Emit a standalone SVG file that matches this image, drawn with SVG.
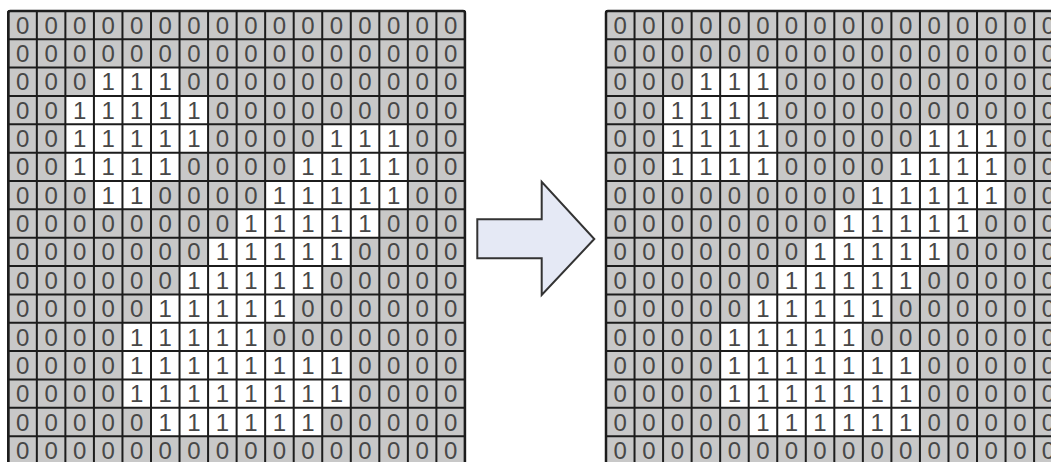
<svg xmlns="http://www.w3.org/2000/svg" xmlns:xlink="http://www.w3.org/1999/xlink" width="1051" height="462" viewBox="0 0 1051 462">
<style>
.bg{fill:#c8c8c8}
.on{fill:#ffffff}
.lines{fill:none;stroke:#1c1c1c;stroke-width:2}
.border{fill:none;stroke:#1c1c1c;stroke-width:2.5}
.d{font-family:"Liberation Sans",Arial,sans-serif;font-size:24px;fill:#474747;text-anchor:middle}
.arrow{fill:#e5e9f5;stroke:#333333;stroke-width:2;stroke-linejoin:miter}
</style>
<defs>
<rect id="gbg" class="bg" x="0" y="0" width="456.64" height="453.6"/>
<path id="glines" class="lines" d="M0 0V453.6M28.54 0V453.6M57.08 0V453.6M85.62 0V453.6M114.16 0V453.6M142.7 0V453.6M171.24 0V453.6M199.78 0V453.6M228.32 0V453.6M256.86 0V453.6M285.4 0V453.6M313.94 0V453.6M342.48 0V453.6M371.02 0V453.6M399.56 0V453.6M428.1 0V453.6M456.64 0V453.6M0 0H456.64M0 28.35H456.64M0 56.7H456.64M0 85.05H456.64M0 113.4H456.64M0 141.75H456.64M0 170.1H456.64M0 198.45H456.64M0 226.8H456.64M0 255.15H456.64M0 283.5H456.64M0 311.85H456.64M0 340.2H456.64M0 368.55H456.64M0 396.9H456.64M0 425.25H456.64M0 453.6H456.64"/>
</defs>

<g id="grid-before" transform="translate(8.3,10.9)">
<use xlink:href="#gbg"/>
<g class="on">
<rect x="85.62" y="56.7" width="85.62" height="28.35"/>
<rect x="57.08" y="85.05" width="142.7" height="28.35"/>
<rect x="57.08" y="113.4" width="142.7" height="28.35"/>
<rect x="313.94" y="113.4" width="85.62" height="28.35"/>
<rect x="57.08" y="141.75" width="114.16" height="28.35"/>
<rect x="285.4" y="141.75" width="114.16" height="28.35"/>
<rect x="85.62" y="170.1" width="57.08" height="28.35"/>
<rect x="256.86" y="170.1" width="142.7" height="28.35"/>
<rect x="228.32" y="198.45" width="142.7" height="28.35"/>
<rect x="199.78" y="226.8" width="142.7" height="28.35"/>
<rect x="171.24" y="255.15" width="142.7" height="28.35"/>
<rect x="142.7" y="283.5" width="142.7" height="28.35"/>
<rect x="114.16" y="311.85" width="142.7" height="28.35"/>
<rect x="114.16" y="340.2" width="228.32" height="56.7"/>
<rect x="142.7" y="396.9" width="171.24" height="28.35"/>
</g>
<use xlink:href="#glines"/>
<rect class="border" x="0" y="0" width="456.64" height="453.6" rx="2"/>
<g class="d">
<text y="22.8" x="14.27 42.81 71.35 99.89 128.43 156.97 185.51 214.05 242.59 271.13 299.67 328.21 356.75 385.29 413.83 442.37">0000000000000000</text>
<text y="51.15" x="14.27 42.81 71.35 99.89 128.43 156.97 185.51 214.05 242.59 271.13 299.67 328.21 356.75 385.29 413.83 442.37">0000000000000000</text>
<text y="79.5" x="14.27 42.81 71.35 99.89 128.43 156.97 185.51 214.05 242.59 271.13 299.67 328.21 356.75 385.29 413.83 442.37">0001110000000000</text>
<text y="107.85" x="14.27 42.81 71.35 99.89 128.43 156.97 185.51 214.05 242.59 271.13 299.67 328.21 356.75 385.29 413.83 442.37">0011111000000000</text>
<text y="136.2" x="14.27 42.81 71.35 99.89 128.43 156.97 185.51 214.05 242.59 271.13 299.67 328.21 356.75 385.29 413.83 442.37">0011111000011100</text>
<text y="164.55" x="14.27 42.81 71.35 99.89 128.43 156.97 185.51 214.05 242.59 271.13 299.67 328.21 356.75 385.29 413.83 442.37">0011110000111100</text>
<text y="192.9" x="14.27 42.81 71.35 99.89 128.43 156.97 185.51 214.05 242.59 271.13 299.67 328.21 356.75 385.29 413.83 442.37">0001100001111100</text>
<text y="221.25" x="14.27 42.81 71.35 99.89 128.43 156.97 185.51 214.05 242.59 271.13 299.67 328.21 356.75 385.29 413.83 442.37">0000000011111000</text>
<text y="249.6" x="14.27 42.81 71.35 99.89 128.43 156.97 185.51 214.05 242.59 271.13 299.67 328.21 356.75 385.29 413.83 442.37">0000000111110000</text>
<text y="277.95" x="14.27 42.81 71.35 99.89 128.43 156.97 185.51 214.05 242.59 271.13 299.67 328.21 356.75 385.29 413.83 442.37">0000001111100000</text>
<text y="306.3" x="14.27 42.81 71.35 99.89 128.43 156.97 185.51 214.05 242.59 271.13 299.67 328.21 356.75 385.29 413.83 442.37">0000011111000000</text>
<text y="334.65" x="14.27 42.81 71.35 99.89 128.43 156.97 185.51 214.05 242.59 271.13 299.67 328.21 356.75 385.29 413.83 442.37">0000111110000000</text>
<text y="363" x="14.27 42.81 71.35 99.89 128.43 156.97 185.51 214.05 242.59 271.13 299.67 328.21 356.75 385.29 413.83 442.37">0000111111110000</text>
<text y="391.35" x="14.27 42.81 71.35 99.89 128.43 156.97 185.51 214.05 242.59 271.13 299.67 328.21 356.75 385.29 413.83 442.37">0000111111110000</text>
<text y="419.7" x="14.27 42.81 71.35 99.89 128.43 156.97 185.51 214.05 242.59 271.13 299.67 328.21 356.75 385.29 413.83 442.37">0000011111100000</text>
<text y="448.05" x="14.27 42.81 71.35 99.89 128.43 156.97 185.51 214.05 242.59 271.13 299.67 328.21 356.75 385.29 413.83 442.37">0000000000000000</text>
</g>
</g>

<g id="connectors">
<polygon id="arrow" class="arrow" points="477.3,219.3 541.7,219.3 541.7,181.7 594.3,239 541.7,295 541.7,258.3 477.3,258.3"/>
</g>

<g id="grid-after" transform="translate(606,10.9)">
<use xlink:href="#gbg"/>
<g class="on">
<rect x="85.62" y="56.7" width="85.62" height="28.35"/>
<rect x="57.08" y="85.05" width="114.16" height="28.35"/>
<rect x="57.08" y="113.4" width="114.16" height="28.35"/>
<rect x="313.94" y="113.4" width="85.62" height="28.35"/>
<rect x="57.08" y="141.75" width="114.16" height="28.35"/>
<rect x="285.4" y="141.75" width="114.16" height="28.35"/>
<rect x="256.86" y="170.1" width="142.7" height="28.35"/>
<rect x="228.32" y="198.45" width="142.7" height="28.35"/>
<rect x="199.78" y="226.8" width="142.7" height="28.35"/>
<rect x="171.24" y="255.15" width="142.7" height="28.35"/>
<rect x="142.7" y="283.5" width="142.7" height="28.35"/>
<rect x="114.16" y="311.85" width="142.7" height="28.35"/>
<rect x="114.16" y="340.2" width="199.78" height="56.7"/>
<rect x="142.7" y="396.9" width="171.24" height="28.35"/>
</g>
<use xlink:href="#glines"/>
<rect class="border" x="0" y="0" width="456.64" height="453.6" rx="2"/>
<g class="d">
<text y="22.8" x="14.27 42.81 71.35 99.89 128.43 156.97 185.51 214.05 242.59 271.13 299.67 328.21 356.75 385.29 413.83 442.37">0000000000000000</text>
<text y="51.15" x="14.27 42.81 71.35 99.89 128.43 156.97 185.51 214.05 242.59 271.13 299.67 328.21 356.75 385.29 413.83 442.37">0000000000000000</text>
<text y="79.5" x="14.27 42.81 71.35 99.89 128.43 156.97 185.51 214.05 242.59 271.13 299.67 328.21 356.75 385.29 413.83 442.37">0001110000000000</text>
<text y="107.85" x="14.27 42.81 71.35 99.89 128.43 156.97 185.51 214.05 242.59 271.13 299.67 328.21 356.75 385.29 413.83 442.37">0011110000000000</text>
<text y="136.2" x="14.27 42.81 71.35 99.89 128.43 156.97 185.51 214.05 242.59 271.13 299.67 328.21 356.75 385.29 413.83 442.37">0011110000011100</text>
<text y="164.55" x="14.27 42.81 71.35 99.89 128.43 156.97 185.51 214.05 242.59 271.13 299.67 328.21 356.75 385.29 413.83 442.37">0011110000111100</text>
<text y="192.9" x="14.27 42.81 71.35 99.89 128.43 156.97 185.51 214.05 242.59 271.13 299.67 328.21 356.75 385.29 413.83 442.37">0000000001111100</text>
<text y="221.25" x="14.27 42.81 71.35 99.89 128.43 156.97 185.51 214.05 242.59 271.13 299.67 328.21 356.75 385.29 413.83 442.37">0000000011111000</text>
<text y="249.6" x="14.27 42.81 71.35 99.89 128.43 156.97 185.51 214.05 242.59 271.13 299.67 328.21 356.75 385.29 413.83 442.37">0000000111110000</text>
<text y="277.95" x="14.27 42.81 71.35 99.89 128.43 156.97 185.51 214.05 242.59 271.13 299.67 328.21 356.75 385.29 413.83 442.37">0000001111100000</text>
<text y="306.3" x="14.27 42.81 71.35 99.89 128.43 156.97 185.51 214.05 242.59 271.13 299.67 328.21 356.75 385.29 413.83 442.37">0000011111000000</text>
<text y="334.65" x="14.27 42.81 71.35 99.89 128.43 156.97 185.51 214.05 242.59 271.13 299.67 328.21 356.75 385.29 413.83 442.37">0000111110000000</text>
<text y="363" x="14.27 42.81 71.35 99.89 128.43 156.97 185.51 214.05 242.59 271.13 299.67 328.21 356.75 385.29 413.83 442.37">0000111111100000</text>
<text y="391.35" x="14.27 42.81 71.35 99.89 128.43 156.97 185.51 214.05 242.59 271.13 299.67 328.21 356.75 385.29 413.83 442.37">0000111111100000</text>
<text y="419.7" x="14.27 42.81 71.35 99.89 128.43 156.97 185.51 214.05 242.59 271.13 299.67 328.21 356.75 385.29 413.83 442.37">0000011111100000</text>
<text y="448.05" x="14.27 42.81 71.35 99.89 128.43 156.97 185.51 214.05 242.59 271.13 299.67 328.21 356.75 385.29 413.83 442.37">0000000000000000</text>
</g>
</g>
</svg>
